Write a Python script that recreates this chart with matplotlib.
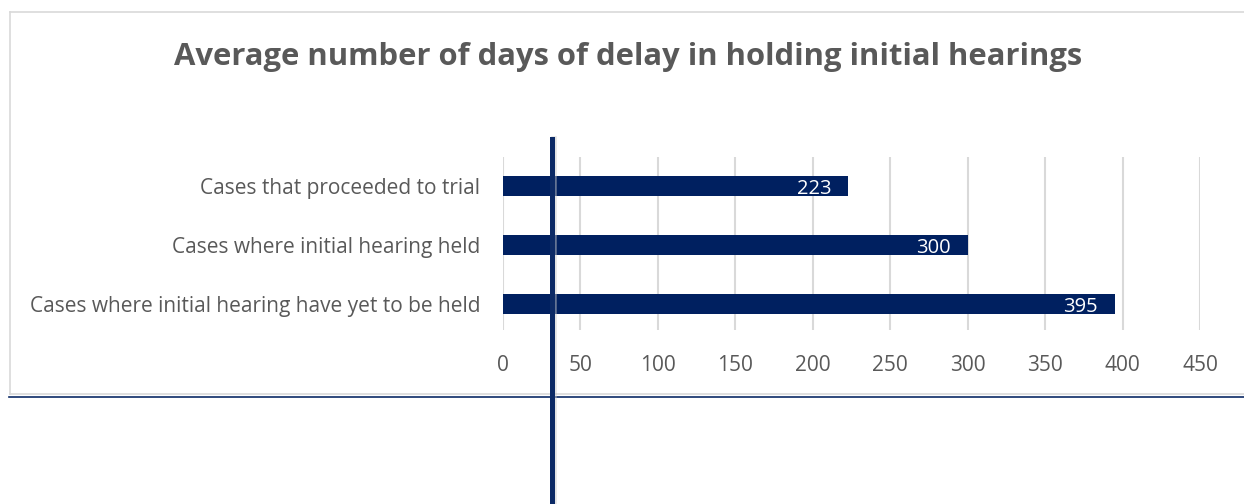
import numpy as np
import matplotlib
matplotlib.use('Agg')
import matplotlib.pyplot as plt
from matplotlib.lines import Line2D


categories = ['Cases where initial hearing have yet to be held',
              'Cases where initial hearing held',
              'Cases that proceeded to trial']
days = [395, 300, 223]
xticks = [0, 50, 100, 150, 200, 250, 300, 350, 400, 450]

title = 'Average number of days of delay in holding initial hearings'
bar_color = '#002060'
grey_text = '#595959'

plt.rcParams['font.family'] = ['Open Sans', 'DejaVu Sans']

W, H = 1244, 504
fig = plt.figure(figsize=(W / 100, H / 100), dpi=100)

# plot area in pixels
left, right, top, bottom = 503, 1200, 157, 330
ax = fig.add_axes([left / W, 1 - bottom / H, (right - left) / W, (bottom - top) / H])

y = np.arange(len(categories))
ax.barh(y, days, height=0.34, color=bar_color, zorder=3)
for yi, v in zip(y, days):
    ax.text(v - 11, yi - 0.05, str(v), color='white', ha='right', va='center', fontsize=14.5, zorder=4)

ax.set_xlim(0, 450)
ax.set_ylim(-0.44, 2.49)
ax.set_xticks(xticks)
ax.set_yticks(y)
ax.set_yticklabels(categories)
ax.grid(axis='x', color='#d9d9d9', linewidth=1.5, zorder=0)
ax.tick_params(axis='both', length=0, labelsize=15, labelcolor=grey_text)
ax.tick_params(axis='x', pad=18)
ax.tick_params(axis='y', pad=16.5)
for s in ax.spines.values():
    s.set_visible(False)

fig.text(628 / W, 1 - 57 / H, title, ha='center', va='center', fontsize=22.3,
         fontweight='bold', color=grey_text)

# chart frame and extra lines
def px(x0, x1, y0, y1, **kw):
    fig.add_artist(Line2D([x0 / W, x1 / W], [1 - y0 / H, 1 - y1 / H], transform=fig.transFigure, **kw))

px(10, 10, 12, 394, color='#d9d9d9', linewidth=1.2)
px(10, W, 12, 12, color='#d9d9d9', linewidth=1.2)
px(10, W, 394, 394, color='#d9d9d9', linewidth=1.2)
px(9, W, 396.5, 396.5, color='#0c2a66', linewidth=1.2)
px(554, 554, 139, H, color='#c8c8c8', linewidth=4, alpha=0.5)
px(552, 552, 139, H, color='#0c2a66', linewidth=3.6)

fig.savefig('out.png', dpi=100)
